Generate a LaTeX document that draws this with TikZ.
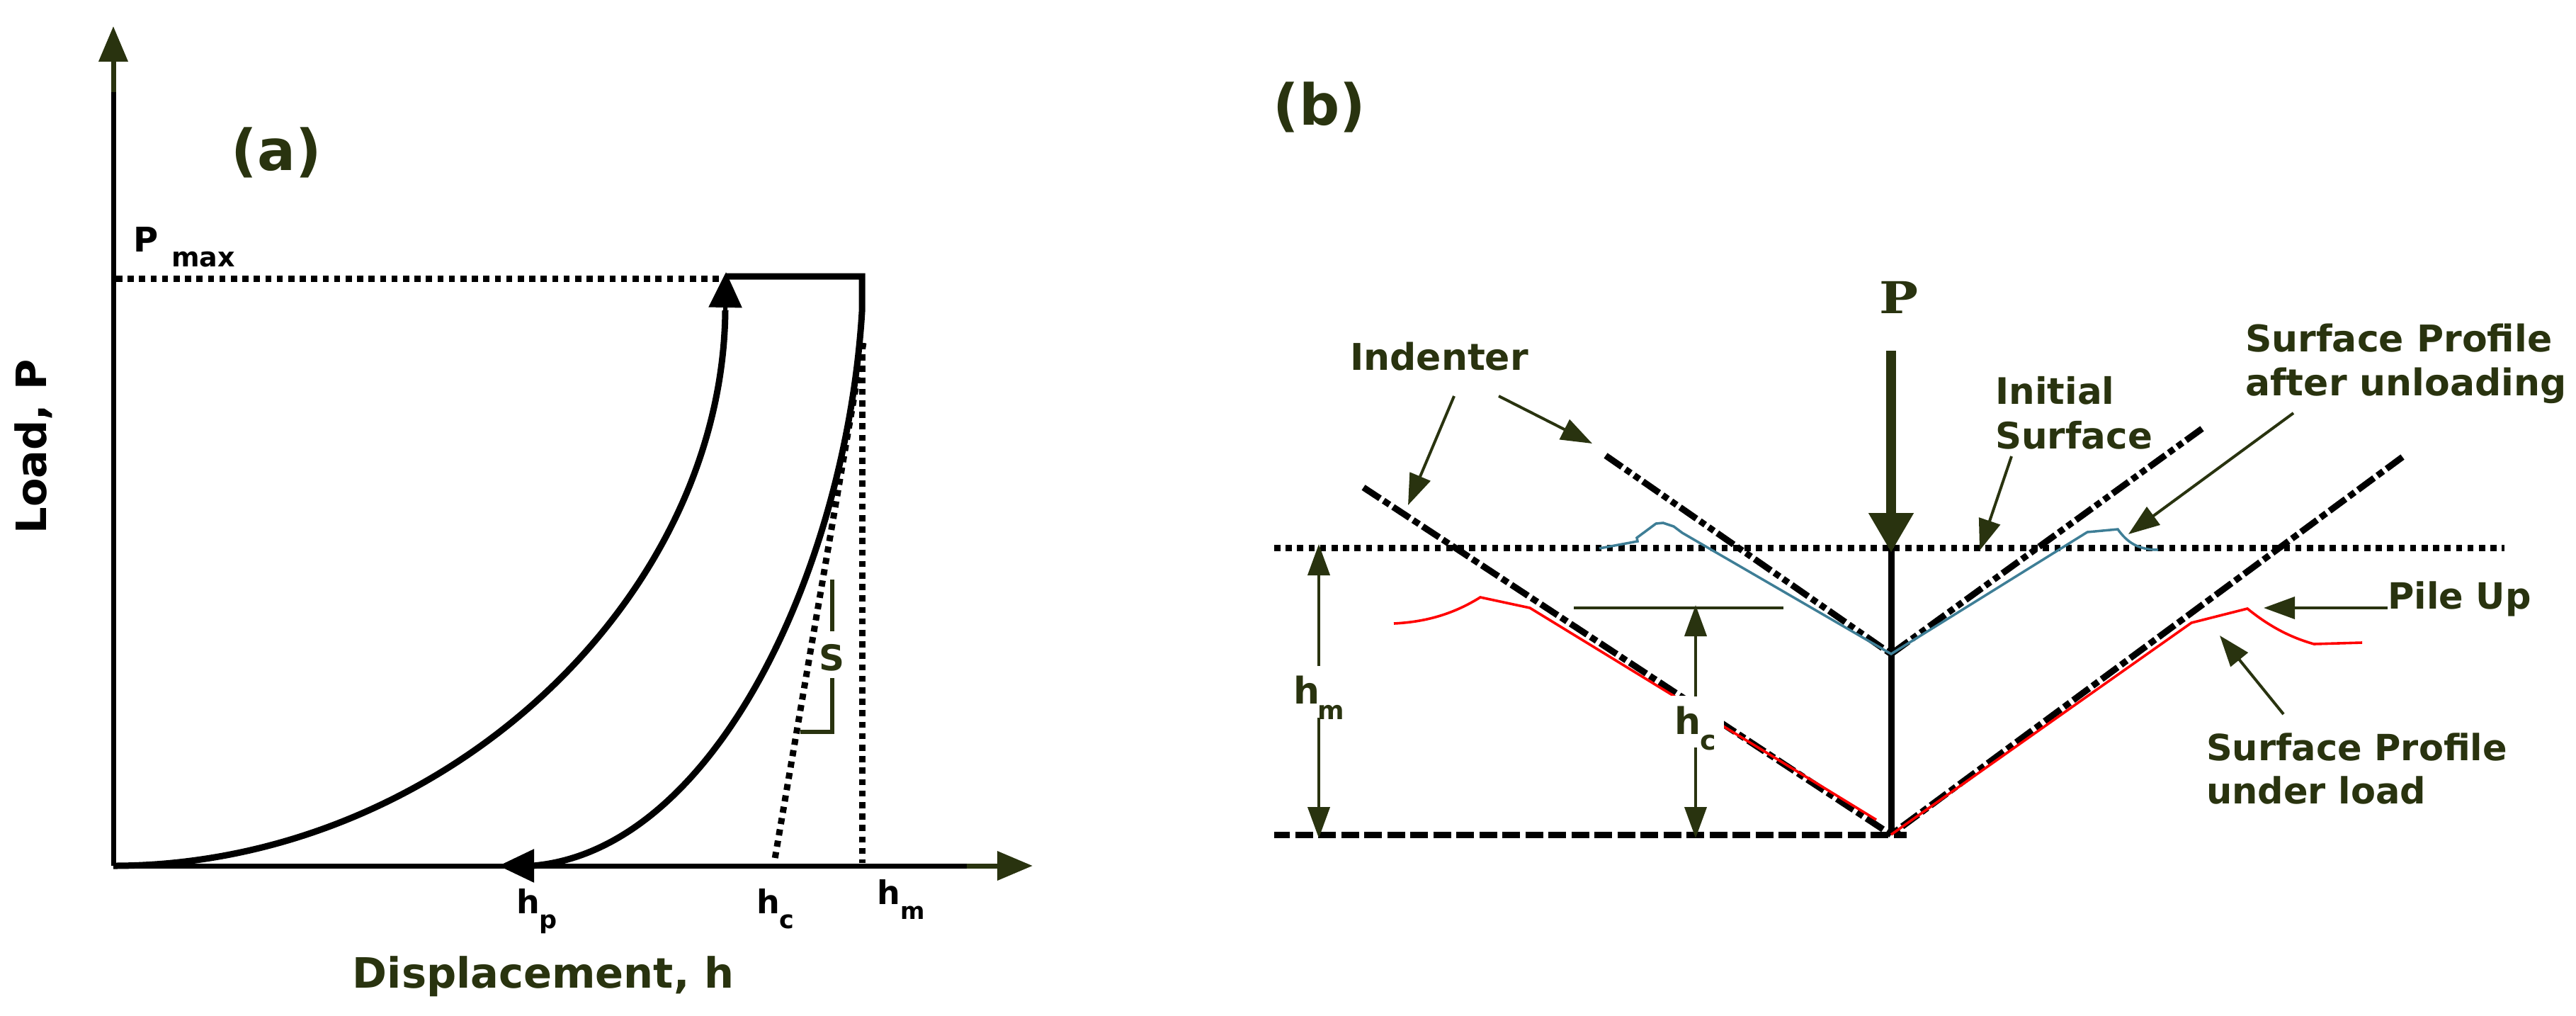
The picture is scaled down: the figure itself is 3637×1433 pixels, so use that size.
\documentclass[tikz,border=0pt]{standalone}
\usepackage{fontspec}
\setmainfont{DejaVu Sans}
\newfontfamily\serifbold{DejaVu Serif}[BoldFont={DejaVu Serif Bold}]
\usetikzlibrary{arrows.meta}
\definecolor{olive}{RGB}{41,51,15}
\definecolor{teal2}{RGB}{62,126,150}
\definecolor{redline}{RGB}{255,0,0}
\newcommand{\fsz}[1]{\fontsize{#1}{#1}\selectfont\bfseries}
\tikzset{
  lbl/.style={inner sep=0pt,anchor=base west,text=black},
  glbl/.style={inner sep=0pt,anchor=base west,text=olive},
  axisline/.style={line width=7pt,black},
  axistip/.style={line width=7pt,olive,-{Triangle[length=50pt,width=40pt]}},
  curve/.style={line width=9pt,black,line join=miter},
  curvetip/.style={line width=6pt,black,-{Triangle[length=50pt,width=46pt]}},
  sqdots/.style={line width=9pt,black,dash pattern=on 8.6pt off 7.6pt},
  surfdash/.style={line width=9pt,black,dash pattern=on 25pt off 7.5pt},
  indenterA/.style={line width=9pt,black,dash pattern=on 28pt off 6pt on 9pt off 6pt on 9pt off 6pt},
  indenterB/.style={line width=9pt,black,dash pattern=on 28pt off 6pt on 10pt off 6pt},
  thinarrow/.style={line width=4pt,olive,-{Triangle[length=44pt,width=31pt]}},
  tick/.style={line width=6pt,olive},
  redprofile/.style={line width=3.6pt,redline,line join=miter},
  blueprofile/.style={line width=3.5pt,teal2,line join=miter},
}
\begin{document}
\begin{tikzpicture}[x=1pt,y=-1pt]
\useasboundingbox (0,0) rectangle (3637,1433);
% ---------- panel (a)
\coordinate (O) at (160,1222);
\coordinate (Ytop) at (160,37);
\coordinate (Ymid) at (160,130);
\coordinate (Xend) at (1458,1222);
\coordinate (Xmid) at (1365,1222);
\draw[axisline] (O) -- (Ymid);
\draw[axisline] (O) -- (Xmid);
\draw[axistip] (Ymid) -- (Ytop);
\draw[axistip] (Xmid) -- (Xend);
\coordinate (A) at (1025,384);
\coordinate (B) at (1217,390);
\draw[sqdots] (164,393) -- (1025,393);
\draw[sqdots] (1217,484) -- (1217,1218);
\draw[sqdots] (1219,484) -- (1093,1218);
\draw[curve] (O) .. controls (620,1222) and (1020,850) .. (1024,438);
\draw[curvetip] (1024,438) -- (A);
\draw[curve] (1025,390) -- (B |- 0,390) -- (1217,440) .. controls (1195,800) and (1010,1200) .. (752,1222);
\draw[curvetip] (754,1222) -- (704,1222);
\draw[tick] (1175,818) -- (1175,891);
\draw[tick,line cap=rect] (1175,960) -- (1175,1033) -- (1133,1033);
\node[glbl,anchor=center] (S) at (1174,928) {\fsz{50}S};
\node[glbl,anchor=center] (panela) at (390,215) {\fsz{80}(a)};
\node[lbl] (Pm) at (188,355) {\fsz{48}P};
\node[lbl] (Pmax) at (242,376) {\fsz{38}max};
\node[lbl,anchor=center,rotate=90] (ylab) at (47,630) {\fsz{59}Load, P};
\node[glbl,anchor=center] (xlab) at (767,1378) {\fsz{59}Displacement, h};
\node[lbl] (hp) at (729,1289) {\fsz{46}h};
\node[lbl] (hps) at (761,1310) {\fsz{35}p};
\node[lbl] (hc1) at (1068,1289) {\fsz{46}h};
\node[lbl] (hcs) at (1100,1310) {\fsz{35}c};
\node[lbl] (hm1) at (1238,1276) {\fsz{46}h};
\node[lbl] (hms) at (1271,1297) {\fsz{33}m};
% ---------- panel (b)
\node[glbl,anchor=center] (panelb) at (1863,151) {\fsz{80}(b)};
\coordinate (apexU) at (2670,923);
\coordinate (apexL) at (2670,1178);
\draw[indenterA] (2267,643) -- (apexU);
\draw[indenterA] (3109,605) -- (apexU);
\draw[indenterB] (1925,688) -- (apexL);
\draw[indenterB] (3392,645) -- (apexL);
\draw[sqdots] (1799,773) -- (3536,773);
\draw[surfdash,dash phase=3pt] (1799,1178) -- (2692,1178);
\draw[line width=9pt,black] (2670,773) -- (apexL);
\draw[redprofile] (1968,880) .. controls (2010,878) and (2050,868) .. (2090,843) -- (2160,858) -- (2649,1157);
\draw[redprofile] (apexL) -- (3094,879) -- (3173,859) .. controls (3205,885) and (3235,900) .. (3267,909) -- (3335,907);
\draw[blueprofile] (2258,774) -- (2312,764) -- (2311,759) -- (2338,739) -- (2348,738) -- (2363,743) -- (2375,752) -- (apexU) -- (2947,751) -- (2990,747) .. controls (3003,765) and (3018,776) .. (3047,776);
% force
\coordinate (Ftop) at (2670,495);
\coordinate (Ftip) at (2670,780);
\draw[line width=14pt,olive,-{Triangle[length=56pt,width=60pt]}] (Ftop) -- (Ftip);
\node[anchor=center,inner sep=0pt,text=olive,xscale=1.18] (Pforce) at (2681,419.5) {\fontsize{62}{62}\serifbold\bfseries P};
% indenter label
\node[glbl] (ind) at (1906,522) {\fsz{52}Indenter};
\coordinate (i1s) at (2053,559); \coordinate (i1t) at (1988,713);
\coordinate (i2s) at (2116,559); \coordinate (i2t) at (2248,626);
\draw[thinarrow] (i1s) -- (i1t);
\draw[thinarrow] (i2s) -- (i2t);
% initial surface
\node[glbl] (is1) at (2817,570) {\fsz{51.5}Initial};
\node[glbl] (is2) at (2817,633) {\fsz{51.5}Surface};
\coordinate (iss) at (2840,644); \coordinate (ist) at (2795,777);
\draw[thinarrow] (iss) -- (ist);
% surface after unloading
\node[glbl] (sp1) at (3170,496) {\fsz{52}Surface Profile};
\node[glbl] (sp2) at (3170,558) {\fsz{52}after unloading};
\coordinate (sps) at (3238,583); \coordinate (spt) at (3005,754);
\draw[thinarrow] (sps) -- (spt);
% pile up
\node[glbl] (pile) at (3371,859) {\fsz{51}Pile Up};
\coordinate (ps) at (3371,858); \coordinate (pt) at (3196,858);
\draw[thinarrow] (ps) -- (pt);
% surface under load
\node[glbl] (ul1) at (3115,1073) {\fsz{51}Surface Profile};
\node[glbl] (ul2) at (3115,1134) {\fsz{51}under load};
\coordinate (uls) at (3224,1008); \coordinate (ult) at (3134,897);
\draw[thinarrow] (uls) -- (ult);
% hm
\coordinate (hmT) at (1862,768);
\coordinate (hmB) at (1862,1183);
\draw[thinarrow] (1862,940) -- (hmT);
\draw[thinarrow] (1862,1013) -- (hmB);
\node[glbl] (hmb) at (1826,993) {\fsz{52}h};
\node[glbl] (hmbs) at (1860,1015) {\fsz{36}m};
% hc
\coordinate (hcL) at (2222,858); \coordinate (hcR) at (2518,858);
\draw[line width=4.5pt,olive] (hcL) -- (hcR);
\fill[white] (2360,982) rectangle (2434,1055);
\draw[thinarrow] (2394,983) -- (2394,854);
\draw[thinarrow] (2394,1055) -- (2394,1183);
\node[glbl] (hcb) at (2364,1036) {\fsz{52}h};
\node[glbl] (hcbs) at (2400,1058) {\fsz{38}c};
\end{tikzpicture}
\end{document}
